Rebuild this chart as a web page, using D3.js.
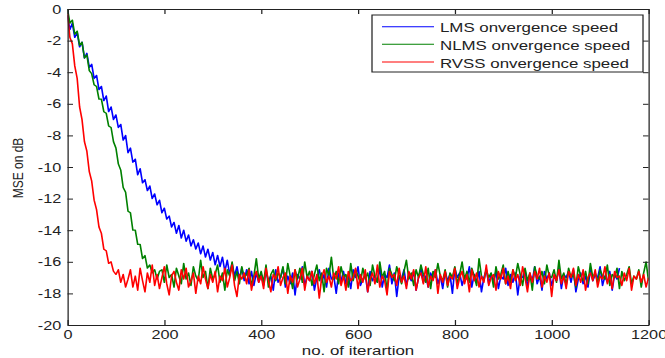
<!DOCTYPE html>
<html>
<head>
<meta charset="utf-8">
<script src="https://cdnjs.cloudflare.com/ajax/libs/d3/7.8.5/d3.min.js"></script>
<style>
    body { margin: 0; background: #fff; }
    #chart svg { display: block; }
    #chart text { font-family: "Liberation Sans", Arial, sans-serif; fill: #222; }
</style>
</head>
<body>
<div id="chart"></div>
<script>

// MSE curves, one value every 5 iterations (0 .. 1200)
const iterStep = 5;

const xTicks = [0, 200, 400, 600, 800, 1000, 1200];
const yTicks = [0, -2, -4, -6, -8, -10, -12, -14, -16, -18, -20];

const seriesNames = ["LMS onvergence speed", "NLMS onvergence speed", "RVSS onvergence speed"];

const lmsMse = [
    -0.4, -1.3, -0.9, -1.8, -1.5, -2.4, -2.1, -3.1, -2.8, -3.7,
    -3.5, -4.4, -4.2, -5.1, -4.9, -5.8, -5.5, -6.5, -6.2, -7.0,
    -6.7, -7.5, -7.3, -8.3, -8.0, -9.1, -8.8, -9.7, -9.5, -10.5,
    -10.1, -11.0, -10.8, -11.5, -11.2, -12.0, -11.7, -12.4, -12.1, -12.9,
    -12.6, -13.3, -13.1, -13.8, -13.5, -14.2, -13.7, -14.5, -14.0, -14.7,
    -14.3, -15.0, -14.6, -15.2, -14.8, -15.5, -15.0, -15.7, -15.2, -15.9,
    -15.4, -16.2, -15.6, -16.3, -15.7, -16.6, -15.9, -16.8, -16.1, -16.9,
    -16.3, -17.1, -16.4, -17.2, -16.5, -17.4, -16.6, -17.5, -16.7, -17.3,
    -16.8, -17.5, -16.6, -17.2, -16.9, -17.8, -16.5, -17.3, -17.0, -16.4, -17.6, -16.9,
    -17.4, -16.7, -18.1, -16.8, -17.1, -16.3, -17.5, -16.9, -17.2, -16.6, -17.8, -17.0,
    -16.5, -17.3, -16.8, -17.6, -16.4, -17.1, -16.9, -18.0, -16.7, -17.2, -16.6, -17.4,
    -16.9, -17.7, -16.5, -17.0, -16.3, -17.5, -17.1, -16.8, -17.9, -16.6, -17.2, -16.9,
    -17.3, -16.4, -17.6, -16.8, -17.0, -16.2, -17.4, -16.7, -18.2, -16.9, -17.1, -16.5,
    -17.5, -16.8, -17.2, -16.6, -17.8, -17.0, -16.4, -17.3, -16.9, -17.6, -16.7, -17.1,
    -16.5, -17.4, -16.9, -17.7, -16.6, -17.2, -16.8, -18.0, -16.4, -17.0, -16.7, -17.5,
    -16.9, -17.1, -16.3, -17.6, -16.8, -17.3, -16.6, -17.9, -17.0, -16.5, -17.4, -16.8,
    -17.2, -16.6, -17.7, -16.9, -17.1, -16.4, -17.5, -16.8, -17.3, -16.7, -18.1, -16.9,
    -17.0, -16.5, -17.6, -16.8, -17.2, -16.3, -17.4, -16.9, -17.8, -16.6, -17.1, -16.7,
    -17.5, -16.9, -17.2, -16.4, -17.7, -16.8, -17.0, -16.6, -17.3, -16.5, -17.9, -17.1,
    -16.7, -17.4, -16.9, -17.6, -16.5, -17.2, -16.8, -17.0, -16.3, -17.5, -16.9, -17.3,
    -16.6, -17.8, -16.8, -17.1, -16.4
];

const nlmsMse = [
    0.0, -0.9, -0.7, -1.6, -1.4, -2.3, -2.1, -3.1, -2.9, -3.9,
    -4.1, -4.8, -4.9, -5.7, -5.7, -6.5, -6.6, -7.4, -7.5, -8.4,
    -8.8, -9.8, -10.2, -11.3, -11.6, -12.8, -12.9, -14.0, -14.0, -14.9,
    -14.9, -15.8, -15.6, -16.4, -16.2, -16.7, -16.5, -17.1, -16.6,
    -16.5, -17.3, -16.2, -17.0, -16.8, -17.6, -16.4, -16.9, -17.4, -16.1, -17.1, -16.7,
    -17.5, -16.3, -16.9, -17.2, -15.9, -17.0, -16.6, -17.7, -16.4, -17.1, -16.8, -16.2,
    -17.3, -16.7, -17.8, -16.5, -16.9, -16.0, -17.2, -16.6, -17.4, -16.3, -17.0, -16.8,
    -16.4, -17.5, -16.9, -15.8, -17.1, -16.6, -17.3, -16.2, -17.6, -16.8, -16.5, -17.2,
    -16.7, -17.0, -16.3, -17.4, -16.1, -16.9, -17.7, -16.5, -17.1, -16.4, -17.3, -16.0,
    -17.0, -16.6, -17.5, -16.8, -16.2, -17.2, -16.7, -17.9, -16.4, -16.9, -15.7, -17.1,
    -16.6, -17.4, -16.3, -17.0, -16.8, -17.6, -16.1, -17.2, -16.5, -16.9, -17.3, -16.4,
    -17.1, -16.7, -17.5, -16.2, -16.9, -17.3, -16.0, -17.0, -16.6, -17.8, -16.4, -16.8,
    -17.2, -16.3, -16.9, -17.4, -16.6, -15.9, -17.1, -16.7, -17.5, -16.5, -17.0, -16.2,
    -16.8, -17.3, -16.4, -17.7, -16.6, -17.0, -16.1, -16.9, -17.2, -16.5, -17.6, -16.7,
    -17.0, -16.3, -17.4, -16.8, -16.0, -17.1, -16.6, -17.3, -16.4, -16.9, -17.5, -15.8,
    -16.9, -17.2, -16.5, -17.0, -16.7, -17.6, -16.3, -17.1, -16.8, -16.2, -17.4, -16.6,
    -17.3, -16.5, -17.0, -16.1, -16.8, -17.5, -16.4, -17.2, -16.7, -17.8, -16.3, -16.9,
    -17.1, -16.6, -17.4, -16.2, -16.9, -17.0, -16.5, -17.3, -15.9, -17.1, -16.7, -17.5,
    -16.4, -17.0, -16.8, -17.6, -16.3, -16.9, -17.2, -16.6, -17.4, -16.1, -17.0, -16.7,
    -17.3, -16.5, -16.9, -17.1, -16.2, -17.5, -16.8, -17.0, -16.4, -17.7, -16.6, -17.2,
    -16.8, -16.3, -17.4, -16.9, -17.1, -16.5, -17.6, -16.7, -16.0, -17.2
];

const rvssMse = [
    -0.3, -1.8, -2.2, -3.6, -4.4, -6.2, -7.0, -8.4, -9.0, -10.3,
    -10.9, -12.1, -12.7, -13.8, -14.2, -15.2, -15.3, -16.1, -16.0, -16.6,
    -16.8, -16.5, -17.3, -16.8, -17.6,
    -17.1, -16.5, -17.6, -16.9, -17.8, -16.4, -17.2, -17.9, -16.7, -17.3, -16.2, -17.5,
    -16.8, -17.7, -17.0, -16.3, -17.4, -18.1, -16.9, -16.6, -17.3, -17.8, -16.5, -17.1,
    -16.4, -17.6, -17.2, -16.7, -18.0, -16.9, -17.4, -16.3, -17.1, -17.7, -16.8, -17.3,
    -16.6, -17.9, -16.9, -17.2, -16.4, -17.6, -17.0, -16.2, -17.5, -18.2, -16.8, -17.1,
    -16.7, -17.4, -16.5, -17.8, -17.0, -16.6, -17.3, -16.9, -17.7, -16.4, -17.2, -17.9,
    -16.8, -17.1, -16.3, -17.5, -17.0, -16.7, -18.0, -16.9, -17.3, -16.5, -17.6, -17.1,
    -16.4, -17.8, -16.9, -17.2, -16.6, -17.4, -16.8, -18.3, -17.0, -16.5, -17.3, -16.9,
    -17.6, -16.7, -17.1, -16.3, -17.5, -16.9, -17.8, -16.6, -17.2, -17.0, -16.4, -17.7,
    -16.8, -17.3, -16.5, -17.9, -17.1, -16.7, -17.4, -16.2, -17.6, -16.9, -17.2, -18.1,
    -16.6, -17.0, -16.8, -17.5, -16.4, -17.3, -16.9, -17.7, -16.6, -17.1, -16.5, -17.8,
    -17.0, -16.7, -17.4, -16.3, -17.6, -16.9, -17.2, -16.5, -18.0, -16.8, -17.3, -16.6,
    -17.5, -16.9, -17.1, -16.4, -17.7, -17.0, -16.6, -17.4, -16.8, -17.9, -16.5, -17.2,
    -16.7, -17.6, -16.9, -17.3, -16.2, -17.5, -17.0, -16.8, -17.8, -16.6, -17.1, -16.4,
    -17.4, -16.9, -17.7, -16.5, -17.2, -16.8, -17.5, -16.3, -17.0, -17.9, -16.7, -17.3,
    -16.6, -17.1, -16.4, -17.6, -16.9, -17.3, -16.7, -18.2, -16.8, -17.2, -16.5, -17.4,
    -16.9, -17.7, -16.6, -17.0, -16.4, -17.5, -16.8, -17.3, -16.5, -17.8, -17.0, -16.7,
    -17.2, -16.5, -17.6, -16.9, -17.1, -16.3, -17.4, -16.8, -17.7, -16.6, -17.0, -16.9,
    -17.5, -16.7, -17.2, -16.4, -17.8, -16.9, -17.1, -16.6, -17.3, -16.8, -17.6, -17.0
];


class ConvergenceVis {

    constructor(parentElement, names, series) {
        this.parentElement = parentElement;
        this.names = names;
        this.series = series;

        this.initVis();
    }

    initVis() {
        let vis = this;

        // the reference is stretched horizontally, so draw in a narrower
        // viewBox and let the svg stretch it to the page width
        vis.pageWidth = 665;
        vis.pageHeight = 358;
        vis.stretch = 1.25;
        vis.vbWidth = vis.pageWidth / vis.stretch;

        vis.margin = {top: 9, right: 13.2, bottom: 33, left: 54};
        vis.width = vis.vbWidth - vis.margin.left - vis.margin.right;
        vis.height = vis.pageHeight - vis.margin.top - vis.margin.bottom;

        vis.colors = ["#0000ff", "#008000", "#ff0000"];

        vis.svg = d3.select("#" + vis.parentElement).append("svg")
            .attr("width", vis.pageWidth)
            .attr("height", vis.pageHeight)
            .attr("viewBox", `0 0 ${vis.vbWidth} ${vis.pageHeight}`)
            .attr("preserveAspectRatio", "none")
            .append("g")
            .attr("transform", `translate(${vis.margin.left},${vis.margin.top})`);

        vis.x = d3.scaleLinear().domain([0, 1200]).range([0, vis.width]);
        vis.y = d3.scaleLinear().domain([-20, 0]).range([vis.height, 0]);

        vis.svg.append("clipPath")
            .attr("id", "plot-clip")
            .append("rect")
            .attr("width", vis.width)
            .attr("height", vis.height);

        vis.line = d3.line()
            .x((d, i) => vis.x(i * iterStep))
            .y(d => vis.y(d));

        // curves: LMS first, RVSS ends on top
        vis.svg.append("g")
            .attr("clip-path", "url(#plot-clip)")
            .selectAll(".curve")
            .data(vis.series)
            .enter()
            .append("path")
            .attr("class", "curve")
            .attr("d", vis.line)
            .attr("fill", "none")
            .attr("stroke", (d, i) => vis.colors[i])
            .attr("stroke-width", 1.3)
            .attr("stroke-linejoin", "round");

        // plain hyphen minus like matlab, no thousands comma
        let fmt = d => String(d);

        // matlab style box, ticks pointing inwards
        vis.xAxis = d3.axisBottom(vis.x).tickValues(xTicks).tickFormat(fmt)
            .tickSizeInner(-5).tickSizeOuter(0).tickPadding(4.6);
        vis.yAxis = d3.axisLeft(vis.y).tickValues(yTicks).tickFormat(fmt)
            .tickSizeInner(-4.4).tickSizeOuter(0).tickPadding(5);
        vis.topAxis = d3.axisTop(vis.x).tickValues(xTicks)
            .tickSizeInner(-5).tickSizeOuter(0).tickFormat("");
        vis.rightAxis = d3.axisRight(vis.y).tickValues(yTicks)
            .tickSizeInner(-4.4).tickSizeOuter(0).tickFormat("");

        vis.svg.append("g")
            .attr("class", "axis")
            .attr("transform", `translate(0,${vis.height})`)
            .call(vis.xAxis);
        vis.svg.append("g")
            .attr("class", "axis")
            .call(vis.yAxis);
        vis.svg.append("g")
            .attr("class", "axis")
            .call(vis.topAxis);
        vis.svg.append("g")
            .attr("class", "axis")
            .attr("transform", `translate(${vis.width},0)`)
            .call(vis.rightAxis);

        vis.svg.selectAll(".axis path, .axis line").attr("stroke", "#222");
        vis.svg.selectAll(".axis text")
            .style("font-size", "13px")
            .attr("fill", "#222");

        vis.svg.append("text")
            .attr("x", vis.width / 2)
            .attr("y", 346)
            .attr("text-anchor", "middle")
            .style("font-size", "13.5px")
            .text("no. of iterartion");

        vis.svg.append("text")
            .attr("transform", `translate(${18.4 - vis.margin.left},${vis.height / 2 + 1}) rotate(-90)`)
            .attr("text-anchor", "middle")
            .style("font-size", "12px")
            .text("MSE on dB");

        // legend
        vis.legend = vis.svg.append("g")
            .attr("class", "legend")
            .attr("transform", `translate(${297.6 - vis.margin.left},${15 - vis.margin.top})`);

        vis.legend.append("rect")
            .attr("width", 216.8)
            .attr("height", 57)
            .attr("fill", "#fff")
            .attr("stroke", "#222")
            .attr("stroke-width", 1);

        let rows = vis.legend.selectAll(".legend-row")
            .data(vis.names)
            .enter()
            .append("g")
            .attr("class", "legend-row")
            .attr("transform", (d, i) => `translate(0,${11.7 + i * 17.65})`);

        rows.append("line")
            .attr("x1", 8)
            .attr("x2", 49.6)
            .attr("stroke", (d, i) => vis.colors[i])
            .attr("stroke-width", 1);

        rows.append("text")
            .attr("x", 54.4)
            .attr("y", 5.6)
            .style("font-size", "13.5px")
            .text(d => d);
    }
}

new ConvergenceVis("chart", seriesNames, [lmsMse, nlmsMse, rvssMse]);

</script>
</body>
</html>
